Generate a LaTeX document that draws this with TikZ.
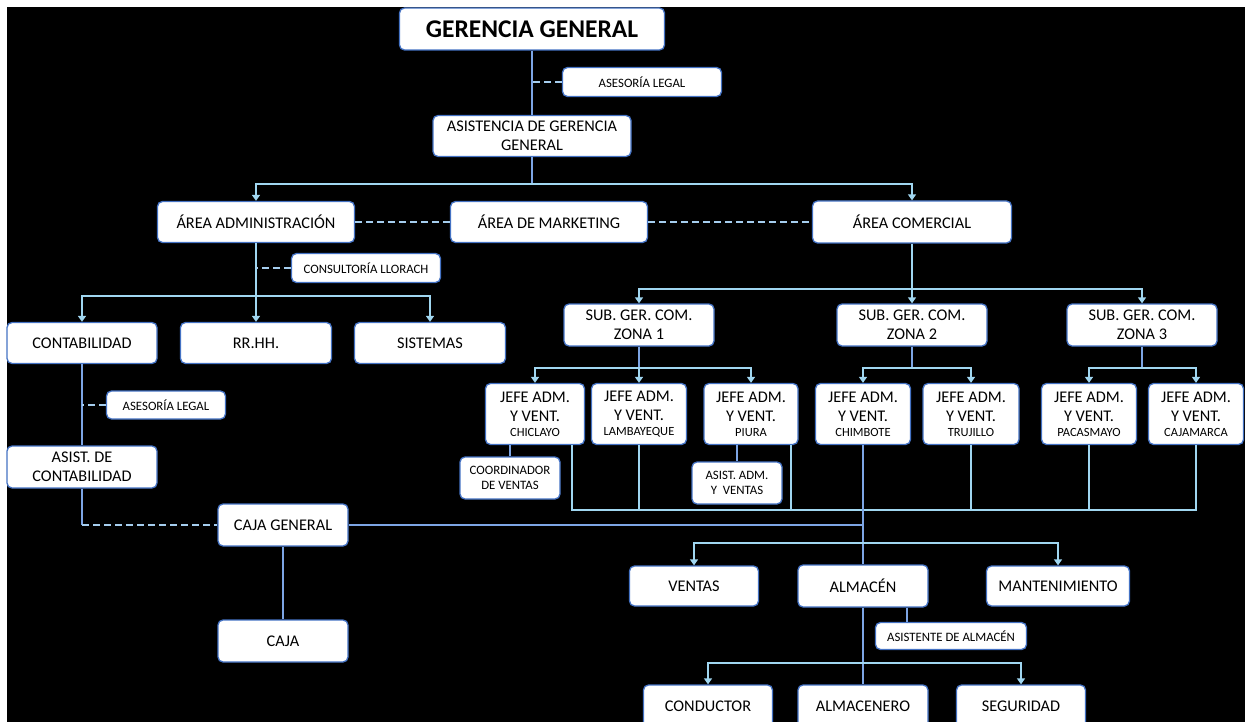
\documentclass[tikz,border=0pt]{standalone}
\usepackage{fontspec}
\setmainfont{Carlito}
\usetikzlibrary{arrows.meta,calc}
\definecolor{bxborder}{RGB}{68,114,196}
\definecolor{lnA}{RGB}{160,214,240}
\definecolor{lnB}{RGB}{125,165,228}
\definecolor{lnD}{RGB}{165,205,238}
\begin{document}
\begin{tikzpicture}[x=1pt,y=-1pt,
  bx/.style={draw=bxborder,line width=1.3pt,fill=white,rounded corners=5pt,inner sep=0pt,align=center,text=black},
  nf/.style={font=\fontsize{16.3}{19}\selectfont},
  sf/.style={font=\fontsize{12.8}{15}\selectfont},
  ln/.style={draw=lnA,line width=2.2pt},
  lnb/.style={draw=lnB,line width=2.6pt},
  dsh/.style={draw=lnD,line width=2.6pt,dash pattern=on 7pt off 4pt},
  arr/.style={ln,-{Triangle[width=8pt,length=6pt]}},
  jf/.style={bx,nf,minimum width=96pt,minimum height=61pt},
]
\fill[white] (0,0) rectangle (1245,722);
\fill[black] (7,7) rectangle (1245,722);
\useasboundingbox (0,0) rectangle (1245,722);

% nodes
\node[bx,minimum width=265pt,minimum height=42pt,font=\fontsize{25.5}{28}\selectfont\bfseries] (gg) at (532,29) {GERENCIA GENERAL};
\node[bx,sf,minimum width=159pt,minimum height=29pt] (al1) at (642,82) {ASESORÍA LEGAL};
\node[bx,nf,minimum width=198pt,minimum height=41pt] (agg) at (532,136) {ASISTENCIA DE GERENCIA\\GENERAL};
\node[bx,nf,minimum width=197pt,minimum height=41pt] (adm) at (256,222) {ÁREA ADMINISTRACIÓN};
\node[bx,nf,minimum width=197pt,minimum height=41pt] (mkt) at (549,222) {ÁREA DE MARKETING};
\node[bx,nf,minimum width=199pt,minimum height=42pt] (com) at (912,222) {ÁREA COMERCIAL};
\node[bx,sf,minimum width=149pt,minimum height=29pt] (cons) at (366,268) {CONSULTORÍA LLORACH};
\node[bx,nf,minimum width=150pt,minimum height=41pt] (cont) at (82,343) {CONTABILIDAD};
\node[bx,nf,minimum width=151pt,minimum height=41pt] (rrhh) at (256,343) {RR.HH.};
\node[bx,nf,minimum width=151pt,minimum height=41pt] (sist) at (430,343) {SISTEMAS};
\node[bx,sf,minimum width=119pt,minimum height=28pt] (al2) at (166,405) {ASESORÍA LEGAL};
\node[bx,nf,minimum width=150pt,minimum height=42pt] (asc) at (82,467) {ASIST. DE\\CONTABILIDAD};
\node[bx,nf,minimum width=130pt,minimum height=42pt] (cg) at (283,525) {CAJA GENERAL};
\node[bx,nf,minimum width=130pt,minimum height=42pt] (caja) at (283,641) {CAJA};

\node[bx,nf,minimum width=150pt,minimum height=42pt] (s1) at (639,325) {SUB. GER. COM.\\ZONA 1};
\node[bx,nf,minimum width=150pt,minimum height=42pt] (s2) at (912,325) {SUB. GER. COM.\\ZONA 2};
\node[bx,nf,minimum width=150pt,minimum height=42pt] (s3) at (1142,325) {SUB. GER. COM.\\ZONA 3};

\node[jf,minimum width=99pt] (j1) at (535,414) {JEFE ADM.\\Y VENT.\\[-4pt]{\fontsize{12.5}{14}\selectfont CHICLAYO}};
\node[jf,minimum width=95pt] (j2) at (639,414) {JEFE ADM.\\Y VENT.\\[-4pt]{\fontsize{12.5}{14}\selectfont LAMBAYEQUE}};
\node[jf,minimum width=94pt] (j3) at (751,414) {JEFE ADM.\\Y VENT.\\[-4pt]{\fontsize{12.5}{14}\selectfont PIURA}};
\node[jf,minimum width=95pt] (j4) at (863,414) {JEFE ADM.\\Y VENT.\\[-4pt]{\fontsize{12.5}{14}\selectfont CHIMBOTE}};
\node[jf,minimum width=96pt] (j5) at (971,414) {JEFE ADM.\\Y VENT.\\[-4pt]{\fontsize{12.5}{14}\selectfont TRUJILLO}};
\node[jf,minimum width=95pt] (j6) at (1089,414) {JEFE ADM.\\Y VENT.\\[-4pt]{\fontsize{12.5}{14}\selectfont PACASMAYO}};
\node[jf,minimum width=95pt] (j7) at (1196,414) {JEFE ADM.\\Y VENT.\\[-4pt]{\fontsize{12.5}{14}\selectfont CAJAMARCA}};

\node[bx,sf,minimum width=100pt,minimum height=42pt] (coord) at (510,478) {COORDINADOR\\DE VENTAS};
\node[bx,sf,minimum width=90pt,minimum height=42pt] (asa) at (737,483) {ASIST. ADM.\\Y\ \ VENTAS};

\node[bx,nf,minimum width=129pt,minimum height=40pt] (ven) at (694,586) {VENTAS};
\node[bx,nf,minimum width=130pt,minimum height=42pt] (alm) at (863,586) {ALMACÉN};
\node[bx,nf,minimum width=143pt,minimum height=40pt] (mant) at (1058,586) {MANTENIMIENTO};
\node[bx,sf,minimum width=151pt,minimum height=27pt] (asal) at (951,636) {ASISTENTE DE ALMACÉN};
\node[bx,nf,minimum width=129pt,minimum height=42pt] (cond) at (708,706) {CONDUCTOR};
\node[bx,nf,minimum width=130pt,minimum height=42pt] (almc) at (863,706) {ALMACENERO};
\node[bx,nf,minimum width=129pt,minimum height=42pt] (seg) at (1021,706) {SEGURIDAD};

% junction coordinates
\coordinate (b0) at (532,184);
\coordinate (b1) at (256,296);
\coordinate (b2) at (912,289);
\coordinate (b3) at (639,368);
\coordinate (b4) at (912,368);
\coordinate (b5) at (1142,368);
\coordinate (kk) at (0,510);
\coordinate (b6) at (863,543);
\coordinate (b7) at (863,663);

% top
\draw[lnb] (gg.south) -- (agg.north);
\draw[lnb] (agg.south) -- (b0);
\draw[arr] (b0) -| (adm.north);
\draw[arr] (b0) -| (com.north);
\draw[dsh] (al1.west) -- (al1.west -| gg.south);
\draw[dsh] (adm.east) -- (mkt.west);
\draw[dsh] (mkt.east) -- (com.west);

% administration
\draw[ln] (adm.south) -- (b1);
\draw[arr] (b1) -- (rrhh.north);
\draw[arr] (b1) -| (cont.north);
\draw[arr] (b1) -| (sist.north);
\draw[dsh] (cons.west) -- (cons.west -| adm.south);
\draw[lnb] (cont.south) -- (asc.north);
\draw[dsh] (al2.west) -- (al2.west -| cont.south);
\draw[lnb] (asc.south) -- (asc.south |- cg.west);
\draw[dsh] (asc.south |- cg.west) -- (cg.west);
\draw[lnb] (cg.south) -- (caja.north);
\draw[lnb] (cg.east) -- (cg.east -| j4.south);

% commercial
\draw[ln] (com.south) -- (b2);
\draw[arr] (b2) -- (s2.north);
\draw[arr] (b2) -| (s1.north);
\draw[arr] (b2) -| (s3.north);
\draw[lnb] (s1.south) -- (b3);
\draw[arr] (b3) -- (j2.north);
\draw[arr] (b3) -| (j1.north);
\draw[arr] (b3) -| (j3.north);
\draw[lnb] (s2.south) -- (b4);
\draw[arr] (b4) -| (j4.north);
\draw[arr] (b4) -| (j5.north);
\draw[lnb] (s3.south) -- (b5);
\draw[arr] (b5) -| (j6.north);
\draw[arr] (b5) -| (j7.north);
\draw[lnb] (coord.north |- j1.south) -- (coord.north);
\draw[lnb] (asa.north |- j3.south) -- (asa.north);

% collector
\draw[ln] ([xshift=37pt]j1.south) |- (j7.south |- kk) -- (j7.south);
\draw[ln] (j2.south) -- (j2.south |- kk);
\draw[ln] ([xshift=40pt]j3.south) -- ([xshift=40pt]j3.south |- kk);
\draw[ln] (j5.south) -- (j5.south |- kk);
\draw[ln] (j6.south) -- (j6.south |- kk);

% lower
\draw[lnb] (j4.south) -- (alm.north);
\draw[arr] (b6) -| (ven.north);
\draw[arr] (b6) -| (mant.north);
\draw[lnb] (alm.south) -- (almc.north);
\draw[lnb] ([xshift=44pt]alm.south) -- ([xshift=44pt]alm.south |- asal.north);
\draw[arr] (b7) -| (cond.north);
\draw[arr] (b7) -| (seg.north);
\end{tikzpicture}
\end{document}
